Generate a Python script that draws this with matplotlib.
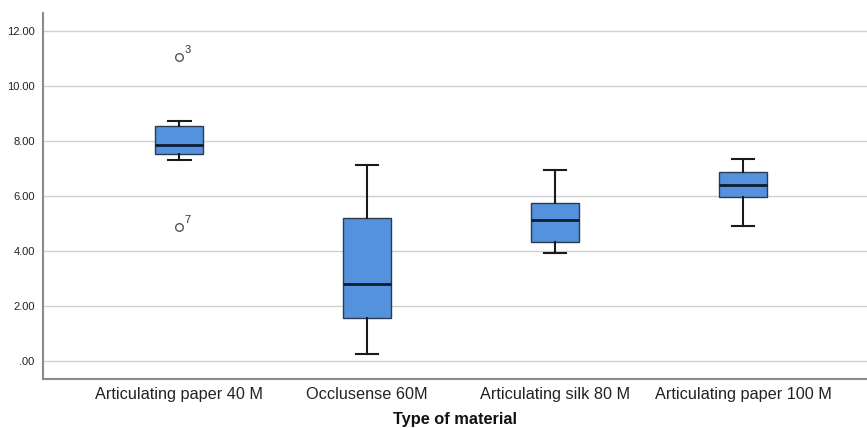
import matplotlib
matplotlib.use("Agg")
import matplotlib.pyplot as plt

categories = ["Articulating paper 40 M", "Occlusense 60M", "Articulating silk 80 M", "Articulating paper 100 M"]
whislo = [7.31, 0.25, 3.93, 4.91]
q1 = [7.51, 1.56, 4.33, 5.96]
med = [7.87, 2.80, 5.13, 6.40]
q3 = [8.56, 5.20, 5.75, 6.87]
whishi = [8.72, 7.13, 6.95, 7.35]
outliers = [[11.05, 4.87], [], [], []]
outlier_ids = [["3", "7"], [], [], []]
yticks = [0, 2, 4, 6, 8, 10, 12]
ytick_labels = [".00", "2.00", "4.00", "6.00", "8.00", "10.00", "12.00"]
xlabel = "Type of material"

plt.rcParams['font.family'] = ['Liberation Sans', 'DejaVu Sans']

fig = plt.figure(figsize=(8.67, 4.28), dpi=100)
ax = fig.add_axes([0.0496, 0.1145, 0.9504, 0.855])

stats = []
for i in range(len(categories)):
    stats.append(dict(whislo=whislo[i], q1=q1[i], med=med[i], q3=q3[i],
                      whishi=whishi[i], fliers=outliers[i], label=categories[i]))

positions = list(range(len(categories)))
ax.bxp(stats, positions=positions, widths=0.255, patch_artist=True, showfliers=True,
       boxprops=dict(facecolor="#5592DE", edgecolor="#2b3a4e", linewidth=1.0),
       medianprops=dict(color="#0d1b33", linewidth=2.0),
       whiskerprops=dict(color="#1a1a1a", linewidth=1.5),
       capprops=dict(color="#1a1a1a", linewidth=1.5),
       capwidths=0.12,
       flierprops=dict(marker="o", markerfacecolor="white", markeredgecolor="#555555",
                       markersize=5.5, markeredgewidth=1.0, linestyle="none"),
       zorder=3)

for i in range(len(categories)):
    for v, lab in zip(outliers[i], outlier_ids[i]):
        ax.annotate(lab, (positions[i], v), xytext=(3.5, 1.5), textcoords="offset points",
                    fontsize=8, color="#333333", va="bottom", ha="left")

ax.set_xlim(-0.725, 3.66)
ax.set_ylim(-0.65, 12.65)
ax.set_yticks(yticks)
ax.set_yticklabels(ytick_labels, fontsize=8, color="#222222")
ax.set_xticks(positions)
ax.set_xticklabels(categories, fontsize=11.7, color="#222222")
ax.tick_params(axis="x", length=0, pad=6)
ax.tick_params(axis="y", length=0, pad=6)
ax.yaxis.grid(True, color="#cfcfcf", linewidth=1.0, zorder=0)
ax.set_axisbelow(True)
for s in ["top", "right"]:
    ax.spines[s].set_visible(False)
ax.spines["left"].set_color("#8a8a8a")
ax.spines["bottom"].set_color("#8a8a8a")
ax.spines["left"].set_linewidth(1.5)
ax.spines["bottom"].set_linewidth(1.5)

ax.set_xlabel(xlabel, fontsize=11.8, fontweight="bold", color="#111111", labelpad=7)

fig.savefig("out.png", dpi=100)
